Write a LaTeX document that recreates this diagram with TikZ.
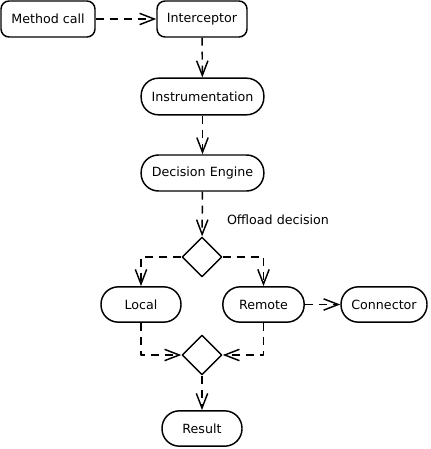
\documentclass[tikz,border=0pt]{standalone}
\usepackage{fontspec}
\setmainfont{DejaVu Sans}
\usetikzlibrary{arrows.meta,shapes.geometric}
\begin{document}
\begin{tikzpicture}[x=0.75pt, y=-0.75pt, line width=1.1pt, line join=round,
    font=\fontsize{9.5}{11}\selectfont,
    box/.style={draw, rounded corners=6pt, minimum height=27pt, inner sep=0pt},
    pill/.style={draw, rounded corners=13pt, minimum height=26.5pt, inner sep=0pt},
    choice/.style={draw, diamond, minimum size=30pt, inner sep=0pt},
    flow/.style={dash pattern=on 6pt off 4.5pt, -{Straight Barb[length=11pt, width=8.5pt]}}]
    \useasboundingbox (0,0) rectangle (430,449);
    % boxes
    \node[box, minimum width=70.5pt] (call) at (48,19) {Method call};
    \node[box, minimum width=67.5pt] (icpt) at (202,19) {Interceptor};
    \node[pill, minimum width=92pt, minimum height=27.5pt] (instr) at (202.5,96.5) {Instrumentation};
    \node[pill, minimum width=92pt, minimum height=27pt] (engine) at (202.5,173) {Decision Engine};
    \node[choice] (dec) at (202,257) {};
    \node (offload) at (278,220) {Offload decision};
    \node[pill, minimum width=60pt] (local) at (141,304.5) {Local};
    \node[pill, minimum width=61pt] (remote) at (263.5,304.5) {Remote};
    \node[pill, minimum width=64.5pt] (conn) at (384,304.5) {Connector};
    \node[choice] (merge) at (202,355) {};
    \node[pill, minimum width=60pt] (result) at (202,428.5) {Result};
    % arrows
    \draw[flow] (call) -- (icpt);
    \draw[flow] (icpt) -- (instr);
    \draw[flow] (instr) -- (engine);
    \draw[flow] (engine) -- (dec);
    \draw[flow] (dec.west) -| (local.north);
    \draw[flow] (dec.east) -| (remote.north);
    \draw[flow] (local.south) |- (merge.west);
    \draw[flow] (remote.south) |- (merge.east);
    \draw[flow] (merge) -- (result);
    \draw[flow] (remote) -- (conn);
\end{tikzpicture}
\end{document}
